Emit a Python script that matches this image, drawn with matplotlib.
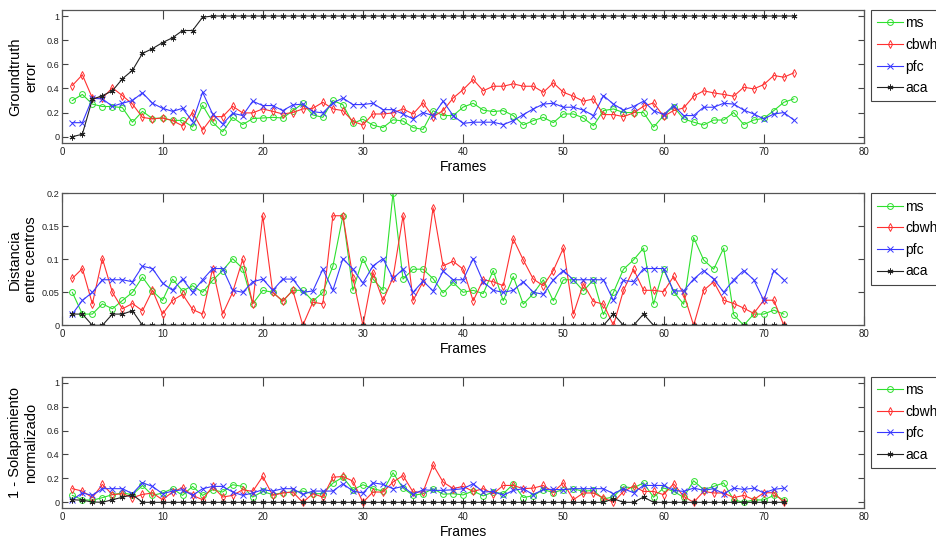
import matplotlib
matplotlib.use("Agg")
import matplotlib.pyplot as plt

plt.rcParams['font.family'] = ['Liberation Sans', 'DejaVu Sans']

series_names = ['ms', 'cbwh', 'pfc', 'aca']

# ---- Panel 1: groundtruth error (frames 1..73) ----
frames_gt = list(range(1, 74))
ms_gt = [0.30, 0.35, 0.27, 0.25, 0.25, 0.24, 0.12, 0.21, 0.15, 0.155,
         0.135, 0.135, 0.08, 0.26, 0.12, 0.04, 0.16, 0.10, 0.15, 0.155,
         0.16, 0.155, 0.215, 0.275, 0.18, 0.16, 0.30, 0.265, 0.11, 0.145,
         0.095, 0.075, 0.14, 0.13, 0.075, 0.06, 0.215, 0.175, 0.175, 0.245,
         0.277, 0.22, 0.208, 0.216, 0.175, 0.097, 0.133, 0.16, 0.116, 0.188,
         0.188, 0.155, 0.09, 0.216, 0.23, 0.20, 0.20, 0.20, 0.078, 0.175,
         0.25, 0.147, 0.12, 0.097, 0.138, 0.138, 0.20, 0.10, 0.138, 0.152,
         0.216, 0.285, 0.313]
cbwh_gt = [0.424, 0.513, 0.32, 0.32, 0.405, 0.34, 0.27, 0.16, 0.147, 0.155,
           0.133, 0.09, 0.20, 0.055, 0.166, 0.166, 0.252, 0.197, 0.197, 0.23,
           0.21, 0.188, 0.20, 0.23, 0.235, 0.285, 0.23, 0.216, 0.127, 0.097,
           0.188, 0.188, 0.197, 0.23, 0.188, 0.28, 0.166, 0.216, 0.32, 0.39,
           0.474, 0.38, 0.418, 0.418, 0.438, 0.418, 0.418, 0.368, 0.446, 0.368,
           0.335, 0.294, 0.313, 0.183, 0.183, 0.166, 0.197, 0.252, 0.28, 0.169,
           0.216, 0.238, 0.335, 0.38, 0.363, 0.35, 0.335, 0.41, 0.396, 0.432,
           0.507, 0.493, 0.529]
pfc_gt = [0.116, 0.116, 0.318, 0.313, 0.252, 0.277, 0.30, 0.363, 0.277, 0.235,
          0.21, 0.235, 0.125, 0.368, 0.188, 0.105, 0.194, 0.175, 0.294, 0.258,
          0.258, 0.216, 0.263, 0.27, 0.208, 0.197, 0.28, 0.32, 0.266, 0.266,
          0.277, 0.224, 0.224, 0.188, 0.147, 0.20, 0.175, 0.294, 0.175, 0.11,
          0.12, 0.12, 0.12, 0.10, 0.133, 0.183, 0.23, 0.27, 0.277, 0.244,
          0.244, 0.22, 0.175, 0.34, 0.27, 0.22, 0.25, 0.294, 0.216, 0.183,
          0.258, 0.175, 0.175, 0.244, 0.244, 0.277, 0.27, 0.22, 0.188, 0.147,
          0.188, 0.20, 0.138]
aca_gt = [0.0, 0.02, 0.31, 0.34, 0.38, 0.48, 0.55, 0.69, 0.73, 0.78,
          0.82, 0.88, 0.88, 0.99, 1.0, 1.0, 1.0, 1.0, 1.0, 1.0,
          1.0, 1.0, 1.0, 1.0, 1.0, 1.0, 1.0, 1.0, 1.0, 1.0,
          1.0, 1.0, 1.0, 1.0, 1.0, 1.0, 1.0, 1.0, 1.0, 1.0,
          1.0, 1.0, 1.0, 1.0, 1.0, 1.0, 1.0, 1.0, 1.0, 1.0,
          1.0, 1.0, 1.0, 1.0, 1.0, 1.0, 1.0, 1.0, 1.0, 1.0,
          1.0, 1.0, 1.0, 1.0, 1.0, 1.0, 1.0, 1.0, 1.0, 1.0,
          1.0, 1.0, 1.0]

# ---- Panel 2: distance between centres (frames 1..72) ----
frames_dc = list(range(1, 73))
ms_dc = [0.05, 0.017, 0.017, 0.0325, 0.025, 0.0376, 0.05, 0.073, 0.052, 0.0376,
         0.07, 0.052, 0.06, 0.05, 0.068, 0.083, 0.101, 0.086, 0.0325, 0.053,
         0.05, 0.0366, 0.053, 0.053, 0.0366, 0.05, 0.0895, 0.166, 0.053, 0.101,
         0.07, 0.053, 0.2, 0.07, 0.085, 0.085, 0.0707, 0.049, 0.065, 0.05,
         0.053, 0.048, 0.083, 0.037, 0.074, 0.032, 0.048, 0.069, 0.037, 0.069,
         0.069, 0.052, 0.069, 0.016, 0.05, 0.085, 0.099, 0.117, 0.032, 0.085,
         0.051, 0.032, 0.133, 0.099, 0.085, 0.117, 0.016, 0.0, 0.017, 0.017,
         0.023, 0.017]
cbwh_dc = [0.071, 0.086, 0.0325, 0.101, 0.05, 0.025, 0.033, 0.022, 0.053, 0.017,
           0.0376, 0.047, 0.024, 0.017, 0.086, 0.017, 0.05, 0.1, 0.0325, 0.166,
           0.05, 0.0366, 0.053, 0.0, 0.035, 0.0325, 0.166, 0.166, 0.072, 0.0,
           0.08, 0.0376, 0.072, 0.166, 0.0376, 0.066, 0.178, 0.09, 0.097, 0.085,
           0.037, 0.069, 0.066, 0.06, 0.131, 0.099, 0.07, 0.06, 0.083, 0.117,
           0.017, 0.063, 0.036, 0.032, 0.0, 0.053, 0.085, 0.053, 0.053, 0.051,
           0.074, 0.048, 0.0, 0.053, 0.066, 0.038, 0.033, 0.026, 0.018, 0.038,
           0.038, 0.0]
pfc_dc = [0.017, 0.0376, 0.05, 0.069, 0.069, 0.069, 0.066, 0.0895, 0.086, 0.064,
          0.053, 0.07, 0.05, 0.069, 0.086, 0.086, 0.053, 0.05, 0.066, 0.07,
          0.053, 0.07, 0.07, 0.05, 0.052, 0.085, 0.053, 0.101, 0.085, 0.064,
          0.09, 0.101, 0.071, 0.085, 0.05, 0.067, 0.052, 0.082, 0.069, 0.069,
          0.101, 0.066, 0.053, 0.05, 0.053, 0.066, 0.05, 0.047, 0.069, 0.083,
          0.069, 0.069, 0.069, 0.069, 0.0376, 0.068, 0.066, 0.086, 0.086, 0.086,
          0.052, 0.052, 0.07, 0.083, 0.07, 0.05, 0.069, 0.083, 0.069, 0.0376,
          0.083, 0.069]
aca_dc = [0.017, 0.017, 0.0, 0.0, 0.017, 0.017, 0.022, 0.0, 0.0, 0.0,
          0.0, 0.0, 0.0, 0.0, 0.0, 0.0, 0.0, 0.0, 0.0, 0.0,
          0.0, 0.0, 0.0, 0.0, 0.0, 0.0, 0.0, 0.0, 0.0, 0.0,
          0.0, 0.0, 0.0, 0.0, 0.0, 0.0, 0.0, 0.0, 0.0, 0.0,
          0.0, 0.0, 0.0, 0.0, 0.0, 0.0, 0.0, 0.0, 0.0, 0.0,
          0.0, 0.0, 0.0, 0.0, 0.017, 0.0, 0.0, 0.017, 0.0, 0.0,
          0.0, 0.0, 0.0, 0.0, 0.0, 0.0, 0.0, 0.0, 0.0, 0.0,
          0.0, 0.0]

# ---- Panel 3: 1 - normalised overlap (frames 1..72) ----
frames_ov = list(range(1, 73))
ms_ov = [0.058, 0.022, 0.017, 0.039, 0.064, 0.078, 0.064, 0.141, 0.058, 0.078,
         0.114, 0.058, 0.133, 0.058, 0.105, 0.086, 0.147, 0.133, 0.044, 0.091,
         0.064, 0.08, 0.086, 0.094, 0.072, 0.072, 0.16, 0.21, 0.105, 0.147,
         0.114, 0.094, 0.247, 0.119, 0.058, 0.072, 0.114, 0.068, 0.072, 0.062,
         0.095, 0.054, 0.086, 0.072, 0.152, 0.04, 0.055, 0.106, 0.082, 0.106,
         0.113, 0.092, 0.1, 0.026, 0.047, 0.13, 0.12, 0.163, 0.042, 0.12,
         0.092, 0.042, 0.18, 0.106, 0.133, 0.162, 0.02, 0.0, 0.02, 0.02,
         0.058, 0.022]
cbwh_ov = [0.114, 0.094, 0.039, 0.15, 0.064, 0.072, 0.039, 0.066, 0.078, 0.022,
           0.086, 0.122, 0.058, 0.022, 0.133, 0.044, 0.058, 0.105, 0.091, 0.216,
           0.058, 0.078, 0.086, 0.0, 0.072, 0.044, 0.21, 0.216, 0.177, 0.0,
           0.086, 0.086, 0.169, 0.224, 0.086, 0.086, 0.313, 0.169, 0.115, 0.133,
           0.091, 0.114, 0.072, 0.141, 0.141, 0.114, 0.119, 0.141, 0.086, 0.163,
           0.022, 0.078, 0.078, 0.036, 0.0, 0.091, 0.136, 0.091, 0.091, 0.064,
           0.155, 0.05, 0.0, 0.091, 0.078, 0.078, 0.039, 0.058, 0.022, 0.08,
           0.08, 0.0]
pfc_ov = [0.022, 0.078, 0.058, 0.114, 0.114, 0.114, 0.072, 0.163, 0.133, 0.072,
          0.094, 0.105, 0.058, 0.114, 0.133, 0.133, 0.086, 0.058, 0.078, 0.105,
          0.094, 0.114, 0.114, 0.066, 0.094, 0.094, 0.094, 0.155, 0.094, 0.078,
          0.163, 0.15, 0.114, 0.133, 0.066, 0.105, 0.1, 0.1, 0.105, 0.114,
          0.155, 0.086, 0.091, 0.058, 0.1, 0.114, 0.064, 0.108, 0.108, 0.105,
          0.114, 0.114, 0.114, 0.114, 0.072, 0.114, 0.08, 0.141, 0.141, 0.141,
          0.1, 0.091, 0.119, 0.1, 0.114, 0.072, 0.119, 0.108, 0.119, 0.078,
          0.108, 0.119]
aca_ov = [0.022, 0.017, 0.003, 0.0, 0.022, 0.042, 0.064, 0.0, 0.0, 0.0,
          0.0, 0.0, 0.0, 0.0, 0.0, 0.0, 0.0, 0.0, 0.0, 0.0,
          0.0, 0.0, 0.0, 0.0, 0.0, 0.0, 0.0, 0.0, 0.0, 0.0,
          0.0, 0.0, 0.0, 0.0, 0.0, 0.0, 0.0, 0.0, 0.0, 0.0,
          0.0, 0.0, 0.0, 0.0, 0.0, 0.0, 0.0, 0.0, 0.0, 0.0,
          0.0, 0.0, 0.0, 0.0, 0.03, 0.0, 0.0, 0.044, 0.0, 0.0,
          0.0, 0.0, 0.0, 0.0, 0.0, 0.0, 0.0, 0.0, 0.0, 0.0,
          0.0, 0.0]

ylabels = ['Groundtruth\nerror', 'Distancia\nentre centros',
           '1 - Solapamiento\nnormalizado']
xticks = [0, 10, 20, 30, 40, 50, 60, 70, 80]
yticks_unit = [0, 0.2, 0.4, 0.6, 0.8, 1]
yticklabels_unit = ['0', '0.2', '0.4', '0.6', '0.8', '1']
yticks_dc = [0, 0.05, 0.1, 0.15, 0.2]
yticklabels_dc = ['0', '0.05', '0.1', '0.15', '0.2']

styles = [
    dict(color='#2ee02e', marker='o'),
    dict(color='#ff3030', marker='d'),
    dict(color='#3838ff', marker='x'),
    dict(color='#222222', marker=(6, 2, 0)),
]

W, H = 937, 543
fig = plt.figure(figsize=(W / 100, H / 100), dpi=100)

left_px, right_px = 62.3, 864.0
panel_px = [(10.0, 142.7), (193.3, 325.3), (376.7, 508.3)]
ylims = [(-0.05, 1.05), (0.0, 0.2), (-0.05, 1.05)]

panels = [
    (frames_gt, [ms_gt, cbwh_gt, pfc_gt, aca_gt], yticks_unit, yticklabels_unit),
    (frames_dc, [ms_dc, cbwh_dc, pfc_dc, aca_dc], yticks_dc, yticklabels_dc),
    (frames_ov, [ms_ov, cbwh_ov, pfc_ov, aca_ov], yticks_unit, yticklabels_unit),
]

for i, (frames, series, yt, ytl) in enumerate(panels):
    top, bot = panel_px[i]
    ax = fig.add_axes([left_px / W, 1 - bot / H,
                       (right_px - left_px) / W, (bot - top) / H])
    for name, vals, st in zip(series_names, series, styles):
        ax.plot(frames, vals, color=st['color'], lw=0.8, marker=st['marker'],
                markersize=4.2, markerfacecolor='none',
                markeredgecolor=st['color'], markeredgewidth=0.7, label=name)
    ax.set_xlim(0, 80)
    ax.set_ylim(*ylims[i])
    ax.set_xticks(xticks)
    ax.set_xticklabels([str(v) for v in xticks])
    ax.set_yticks(yt)
    ax.set_yticklabels(ytl)
    ax.tick_params(axis='both', which='both', direction='in', top=True,
                   right=True, colors='#444444',
                   labelcolor='#222222', width=0.8)
    ax.tick_params(axis='x', length=6.5, labelsize=7, pad=3)
    ax.tick_params(axis='y', length=4, labelsize=6.6, pad=2)
    for sp in ax.spines.values():
        sp.set_color('#555555')
        sp.set_linewidth(0.9)
    ax.set_xlabel('Frames', fontsize=10, labelpad=2)
    ax.set_ylabel(ylabels[i], fontsize=10.5, linespacing=1.2)
    ax.yaxis.set_label_coords(-0.03, 0.5)
    leg = ax.legend(loc='upper left', bbox_to_anchor=(1.0087, 1.0),
                    borderaxespad=0, fontsize=10, frameon=True,
                    fancybox=False, edgecolor='#444444', framealpha=1,
                    handlelength=1.85, handletextpad=0.15, labelspacing=0.55,
                    borderpad=0.45)
    leg.get_frame().set_linewidth(0.8)

fig.savefig('out.png', dpi=100)
